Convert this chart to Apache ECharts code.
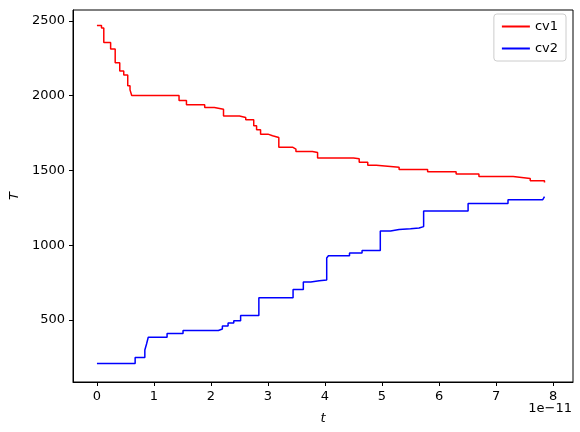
<!DOCTYPE html><html><head><meta charset="utf-8"><script src="https://cdn.jsdelivr.net/npm/echarts@6/dist/echarts.min.js"></script></head><body style="margin:0"><div id="c" style="width:580px;height:432px"></div><script>
const cv1 = [[0,2469],[0.08,2453],[0.12,2355],[0.24,2313],[0.32,2221],[0.40,2166],[0.47,2139],[0.54,2066],[0.58,2039],[0.61,2001],[1.44,1968],[1.57,1939],[1.89,1921],[2.06,1910],[2.22,1865],[2.50,1854],[2.61,1839],[2.75,1799],[2.80,1772],[2.87,1743],[3.0,1732],[3.08,1720],[3.19,1656],[3.43,1643],[3.49,1627],[3.78,1620],[3.87,1584],[4.5,1578],[4.6,1555],[4.75,1535],[4.9,1522],[5.3,1507],[5.8,1492],[6.3,1476],[6.7,1460],[7.3,1447],[7.6,1432],[7.85,1420]];
const cv2 = [[0,210],[0.67,250],[0.84,300],[0.87,340],[0.90,385],[1.23,410],[1.51,430],[2.13,440],[2.2,460],[2.3,480],[2.4,495],[2.52,530],[2.84,650],[3.44,705],[3.62,755],[3.75,763],[3.9,768],[4.03,915],[4.06,930],[4.43,948],[4.65,965],[4.97,1095],[5.15,1105],[5.3,1110],[5.5,1115],[5.65,1125],[5.73,1230],[6.51,1280],[7.21,1305],[7.82,1315],[7.85,1325]];
const xTicks = [0,1,2,3,4,5,6,7,8];
const yTicks = [500,1000,1500,2000,2500];
const F='DejaVu Sans';
echarts.init(document.getElementById('c')).setOption({
animation:false,
grid:{left:73,right:7,top:10,bottom:50},
legend:{top:14,right:14,orient:'vertical',itemWidth:28,itemHeight:2,itemGap:9,padding:[6,8],borderColor:'#ccc',borderWidth:1,borderRadius:3,textStyle:{fontFamily:F,fontSize:13,color:'#000'},data:[{name:'cv1',icon:'rect'},{name:'cv2',icon:'rect'}]},
xAxis:{type:'value',min:-0.42,max:8.35,axisLine:{onZero:false,lineStyle:{color:'#000'}},splitLine:{show:false},
 axisLabel:{fontFamily:F,fontSize:13,color:'#000',customValues:xTicks,formatter:v=>String(v)},axisTick:{show:true,customValues:xTicks,length:4,lineStyle:{color:'#000'}},
 name:'t',nameLocation:'middle',nameGap:30,nameTextStyle:{fontFamily:F,fontStyle:'italic',fontSize:13,color:'#000'}},
yAxis:{type:'value',min:86,max:2573,axisLine:{show:true,onZero:false,lineStyle:{color:'#000'}},splitLine:{show:false},
 axisLabel:{fontFamily:F,fontSize:13,color:'#000',customValues:yTicks,formatter:v=>String(v)},axisTick:{show:true,customValues:yTicks,length:4,lineStyle:{color:'#000'}},
 name:'T',nameLocation:'middle',nameGap:52,nameTextStyle:{fontFamily:F,fontStyle:'italic',fontSize:13,color:'#000'}},
graphic:[{type:'rect',shape:{x:73,y:10,width:500,height:372},style:{fill:'none',stroke:'#000',lineWidth:1}},
 {type:'text',right:8,top:402,style:{text:'1e−11',font:'13px DejaVu Sans',fill:'#000'}}],
series:[
{name:'cv1',type:'line',step:'end',showSymbol:false,data:cv1,lineStyle:{color:'red',width:1.5},itemStyle:{color:'red'}},
{name:'cv2',type:'line',step:'end',showSymbol:false,data:cv2,lineStyle:{color:'blue',width:1.5},itemStyle:{color:'blue'}}]
});
</script></body></html>
